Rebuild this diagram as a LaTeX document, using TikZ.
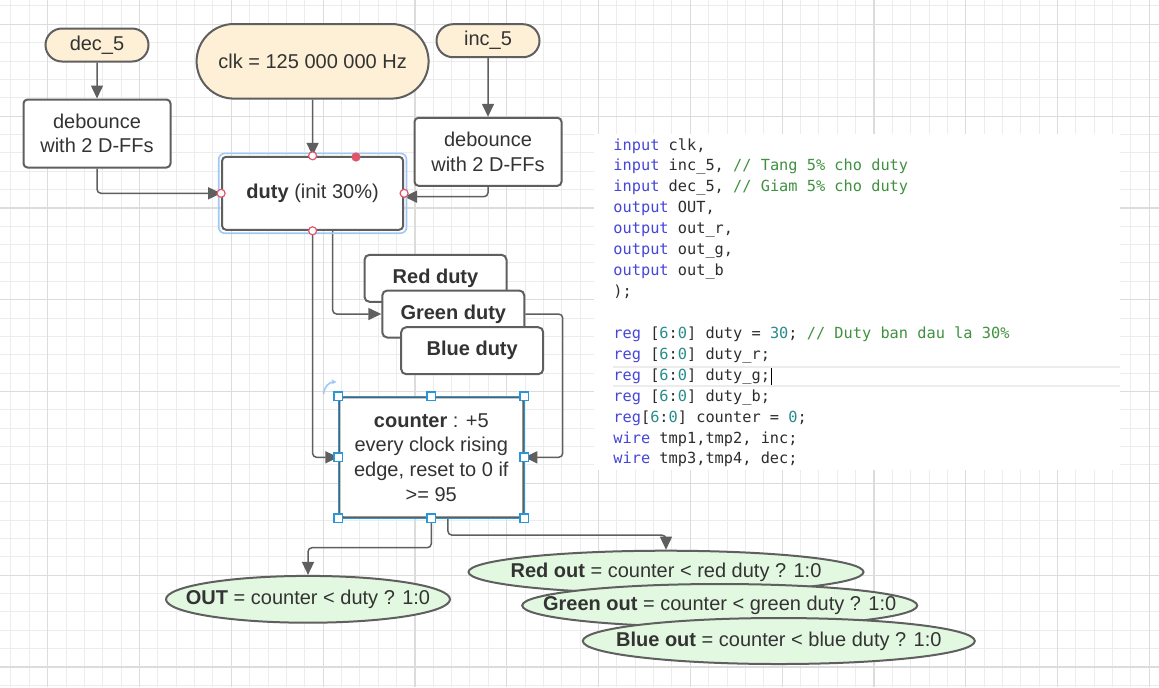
\documentclass[tikz,border=0pt]{standalone}
\usepackage{fontspec}
\setmainfont{Liberation Sans}
\newfontfamily\codefont{DejaVu Sans Mono}
\usepackage{tikz}
\usetikzlibrary{arrows.meta,shapes.geometric,shapes.misc,positioning,calc}
\usepackage{xcolor}
\definecolor{gmin}{RGB}{236,236,236}
\definecolor{gmaj}{RGB}{220,220,220}
\definecolor{lnc}{RGB}{95,95,95}
\definecolor{txc}{RGB}{51,51,51}
\definecolor{cre}{RGB}{253,240,214}
\definecolor{grf}{RGB}{227,248,225}
\definecolor{selb}{RGB}{40,150,215}
\definecolor{glw}{RGB}{160,200,245}
\definecolor{hdl}{RGB}{225,85,105}
\definecolor{kwc}{RGB}{70,70,215}
\definecolor{cmc}{RGB}{64,145,64}
\definecolor{nmc}{RGB}{40,140,140}
\definecolor{cdc}{RGB}{45,45,45}
\newcommand\kw[1]{\textcolor{kwc}{#1}}
\newcommand\cmt[1]{\textcolor{cmc}{#1}}
\newcommand\cnum[1]{\textcolor{nmc}{#1}}
\newcommand\dfont{\fontsize{10}{12.3}\selectfont}
\tikzset{
  pn/.style={rounded rectangle,draw=lnc,fill=cre,line width=1pt,text=txc,font=\dfont,
    minimum width=#1,minimum height=16.5pt,inner sep=2pt},
  pn/.default=55.5pt,
  wn/.style={rectangle,rounded corners=2pt,draw=lnc,fill=white,line width=1pt,text=txc,
    align=center,font=\dfont,minimum width=#1,minimum height=34pt},
  wn/.default=73.5pt,
  cn/.style={rectangle,rounded corners=2.5pt,draw=lnc,fill=white,line width=1pt,text=txc,
    font=\dfont\bfseries,minimum width=71pt,minimum height=23.5pt},
  en/.style={ellipse,draw=lnc,fill=grf,line width=1pt,text=txc,font=\dfont,
    minimum width=#1,inner xsep=-22pt,inner ysep=1pt},
  en/.default=197.5pt,
  arr/.style={-{Triangle[length=6.5pt,width=6pt]},line width=0.75pt,color=lnc,rounded corners=2pt},
  cl/.style={anchor=base west,inner sep=0pt,text=cdc,font=\codefont\fontsize{7.65}{9}\selectfont},
}

\begin{document}
\begin{tikzpicture}[x=0.5pt,y=-0.5pt]
  \useasboundingbox (0,0) rectangle (1159,687);
  \fill[white] (0,0) rectangle (1159,687);
  % grid
  \foreach \i in {0,...,62} \draw[gmin,line width=0.5pt] ({10.98+18.36*\i},0) -- ++(0,687);
  \foreach \i in {0,...,37} \draw[gmin,line width=0.5pt] (0,{5.94+18.36*\i}) -- ++(1159,0);
  \foreach \i in {0,...,12} \draw[gmaj,line width=0.6pt] ({47.7+91.8*\i},0) -- ++(0,687);
  \foreach \i in {0,...,7} \draw[gmaj,line width=0.6pt] (0,{24.3+91.8*\i}) -- ++(1159,0);

  % verilog snippet
  \fill[white] (594,134) rectangle (1120,470);
  \draw[gmin,line width=0.8pt] (613,366.7) -- (1120,366.7) (613,386) -- (1120,386);
  \foreach \txt [count=\i from 0] in {
      {\kw{input} clk,},
      {\kw{input} inc\_5, \cmt{// Tang 5\% cho duty}},
      {\kw{input} dec\_5, \cmt{// Giam 5\% cho duty}},
      {\kw{output} OUT,},
      {\kw{output} out\_r,},
      {\kw{output} out\_g,},
      {\kw{output} out\_b},
      {);}}
    \node[cl] (c\i) at (613,{150+20.93*\i}) {\txt};
  \foreach \txt [count=\i from 9] in {
      {\kw{reg} [\cnum{6}:\cnum{0}] duty = \cnum{30}; \cmt{// Duty ban dau la 30\%}},
      {\kw{reg} [\cnum{6}:\cnum{0}] duty\_r;},
      {\kw{reg} [\cnum{6}:\cnum{0}] duty\_g;},
      {\kw{reg} [\cnum{6}:\cnum{0}] duty\_b;},
      {\kw{reg}[\cnum{6}:\cnum{0}] counter = \cnum{0};},
      {\kw{wire} tmp1,tmp2, inc;},
      {\kw{wire} tmp3,tmp4, dec;}}
    \node[cl] (c\i) at (613,{150+20.93*\i}) {\txt};
  \draw[black,line width=0.5pt] (771.5,368) -- (771.5,385);

  % inputs
  \node[pn] (dec5) at (97,45) {dec\_5};
  \node[wn,below=18pt of dec5] (dbl) {debounce\\with 2 D-FFs};
  \node[pn=120pt,minimum height=37.3pt] (clk) at (312.6,61.3) {clk = 125 000 000 Hz};
  \node[pn] (inc5) at (488,40.7) {inc\_5};
  \node[wn,below=29.3pt of inc5] (dbr) {debounce\\with 2 D-FFs};
  \node[wn=90.5pt,minimum height=36.5pt] (duty) at (312.6,193.3) {\textbf{duty} (init 30\%)};

  % per colour duty
  \node[cn] (rd) at (435.5,278.3) {Red duty};
  \node[cn] (gd) at (453.3,314) {Green duty};
  \node[cn] (bd) at (472.2,350.7) {Blue duty};

  \node[wn=92pt,minimum height=60pt] (cnt) at (431.3,457.3)
    {\textbf{counter} : +5\\every clock rising\\edge, reset to 0 if\\>= 95};

  % outputs
  \node[en=142pt,minimum height=23.4pt] (out) at (308,599.3) {\textbf{OUT} = counter < duty ? 1:0};
  \node[en,minimum height=21.3pt] (ro) at (666,572) {\textbf{Red out} = counter < red duty ? 1:0};
  \node[en,minimum height=21.5pt] (go) at (719.7,605.5) {\textbf{Green out} = counter < green duty ? 1:0};
  \node[en=196pt,minimum height=23pt] (bo) at (778.8,641) {\textbf{Blue out} = counter < blue duty ? 1:0};

  \draw[arr] (dec5) -- (dbl);
  \draw[arr] (dbl.south) |- (duty.west);
  \draw[arr] (clk) -- (duty);
  \draw[arr] (inc5) -- (dbr);
  \draw[arr] (dbr.south) |- ([yshift=-1.7pt]duty.east);
  \draw[arr] ([xshift=10pt]duty.south) |- (gd.west);
  \draw[arr] (duty.south) |- (cnt.west);
  \draw[arr] (gd.east) -- ++(18.7pt,0) |- (cnt.east);
  \draw[arr] (cnt.south) -- ++(0,-14.7pt) -| (out.north);
  \draw[arr] ([xshift=8.3pt]cnt.south) -- ++(0,-8.4pt) -| (ro.north);

  % editor selection marks
  \draw[glw,line width=0.8pt,rounded corners=3pt] ([shift={(-1.2pt,1.2pt)}]duty.north west)
    rectangle ([shift={(1.2pt,-1.2pt)}]duty.south east);
  \foreach \a in {north,south,east,west}
    \draw[hdl,fill=white,line width=0.6pt] (duty.\a) circle (2pt);
  \fill[hdl] (356,157) circle (2.3pt);
  \draw[selb,line width=0.4pt] (cnt.north west) rectangle (cnt.south east);
  \foreach \a in {north west,north,north east,east,south east,south,south west,west}
    \draw[selb,fill=white,line width=0.6pt] ([shift={(-2.2pt,-2.2pt)}]cnt.\a) rectangle ++(4.4pt,4.4pt);
  \draw[glw,line width=0.8pt,-{Stealth[length=2.5pt,width=2.5pt]}] (323.5,394) to[bend left=45] (336.5,382);
\end{tikzpicture}
\end{document}
